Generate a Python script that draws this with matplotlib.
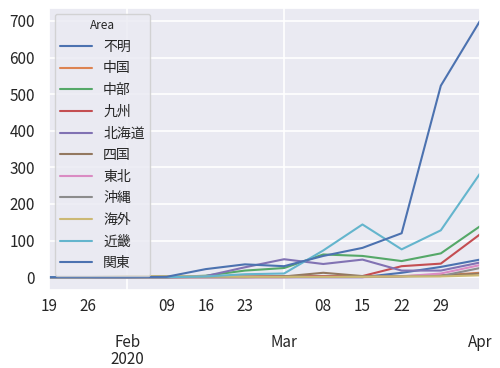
import matplotlib
matplotlib.use("Agg")
import matplotlib.pyplot as plt
import matplotlib.dates as mdates
import matplotlib.ticker as mticker
import seaborn as sns
import pandas as pd

dates = ["2020-01-19", "2020-01-26", "2020-02-02", "2020-02-09", "2020-02-16", "2020-02-23",
         "2020-03-01", "2020-03-08", "2020-03-15", "2020-03-22", "2020-03-29", "2020-04-05"]
areas = ["不明", "中国", "中部", "九州", "北海道", "四国", "東北", "沖縄", "海外", "近畿", "関東"]

fumei    = [0, 0, 0, 0, 0, 0, 0, 0, 0, 12, 28, 48]
chugoku  = [0, 0, 0, 0, 0, 0, 0, 2, 1, 3, 5, 12]
chubu    = [0, 0, 0, 0, 4, 18, 25, 62, 58, 44, 65, 139]
kyushu   = [0, 0, 0, 0, 1, 2, 3, 3, 3, 30, 37, 117]
hokkaido = [0, 0, 0, 0, 3, 27, 49, 36, 48, 18, 18, 40]
shikoku  = [0, 0, 0, 0, 0, 0, 2, 12, 3, 3, 4, 10]
tohoku   = [0, 0, 0, 0, 0, 0, 0, 0, 0, 2, 10, 33]
okinawa  = [0, 0, 0, 0, 1, 1, 1, 1, 1, 2, 3, 25]
kaigai   = [0, 0, 3, 3, 2, 1, 1, 1, 1, 2, 2, 5]
kinki    = [0, 0, 0, 0, 2, 8, 10, 73, 144, 76, 128, 283]
kanto    = [0, 0, 0, 1, 22, 35, 30, 58, 80, 120, 523, 700]

series = [fumei, chugoku, chubu, kyushu, hokkaido, shikoku, tohoku, okinawa, kaigai, kinki, kanto]

major_dates = ["2020-02-02", "2020-03-01", "2020-04-05"]
major_labels = ["Feb\n2020", "Mar", "Apr"]
minor_dates = ["2020-01-19", "2020-01-26", "2020-02-09", "2020-02-16", "2020-02-23",
               "2020-03-08", "2020-03-15", "2020-03-22", "2020-03-29"]
minor_labels = ["19", "26", "09", "16", "23", "08", "15", "22", "29"]

sns.set_theme(style="darkgrid")
plt.rcParams["font.family"] = ["Noto Sans CJK JP", "DejaVu Sans"]

x = pd.to_datetime(dates)
fig = plt.figure(figsize=(5.0, 3.68), dpi=100)
ax = fig.add_axes([0.098, 0.212, 0.862, 0.766])

for name, vals in zip(areas, series):
    ax.plot(x, vals, label=name, linewidth=1.5)

ax.set_xlim(x[0], x[-1])
ax.set_ylim(-35, 735)
ax.yaxis.set_major_locator(mticker.MultipleLocator(100))

ax.xaxis.set_major_locator(mticker.FixedLocator(mdates.date2num(pd.to_datetime(major_dates))))
ax.xaxis.set_major_formatter(mticker.FixedFormatter(major_labels))
ax.xaxis.set_minor_locator(mticker.FixedLocator(mdates.date2num(pd.to_datetime(minor_dates))))
ax.xaxis.set_minor_formatter(mticker.FixedFormatter(minor_labels))
ax.tick_params(axis="both", which="both", labelsize=11, colors="#262626", length=0)
ax.tick_params(axis="x", which="major", pad=32)
ax.tick_params(axis="x", which="minor", pad=6)
ax.tick_params(axis="y", which="major", pad=10)
ax.grid(True, which="major", color="white", linewidth=1.2)
for lab in ax.get_xmajorticklabels():
    lab.set_linespacing(0.95)

leg = ax.legend(title="Area", loc="upper left", fontsize=10, title_fontsize=8.5,
                labelspacing=0.55, handlelength=2.3, borderaxespad=0.4)

fig.savefig("out.png", dpi=100)
